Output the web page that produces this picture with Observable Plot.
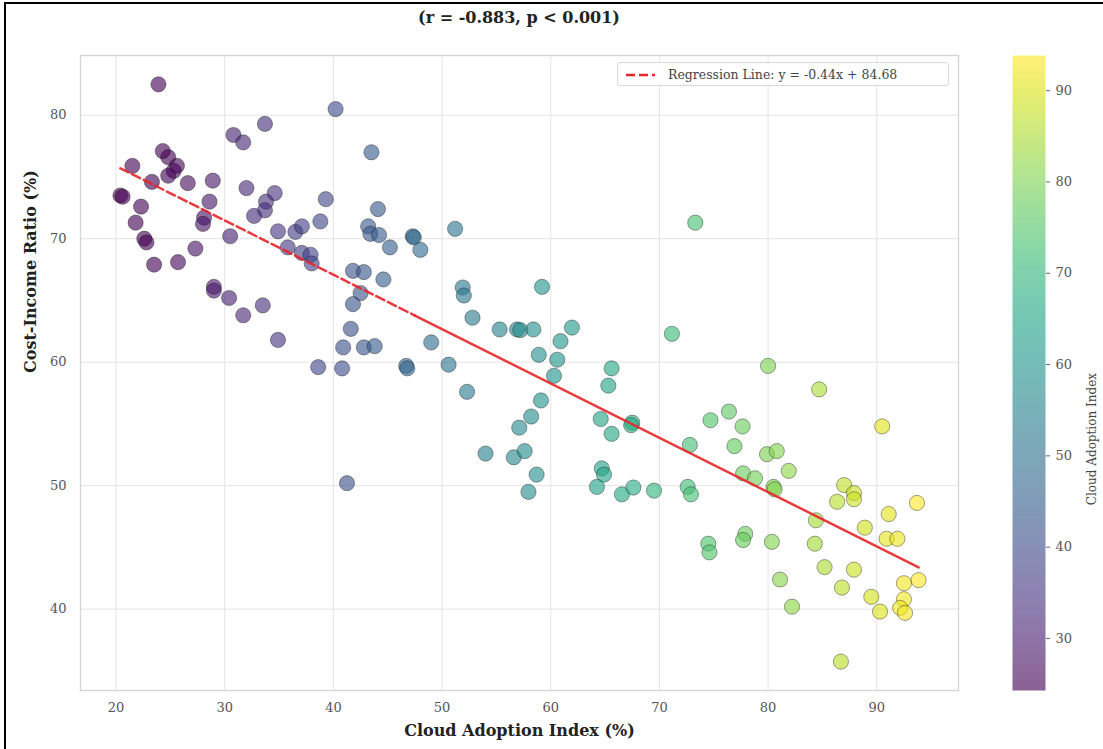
<!DOCTYPE html>
<html><head><meta charset="utf-8">
<script src="https://cdn.jsdelivr.net/npm/d3@7"></script>
<script src="https://cdn.jsdelivr.net/npm/@observablehq/plot@0.6"></script>
<style>
body{margin:0;background:#fff;font-family:"DejaVu Serif",serif;}
#wrap{position:relative;width:1103px;height:749px;overflow:hidden;background:#fff;}
#wrap svg{position:absolute;top:0;}
#border{position:absolute;left:4px;top:2px;width:1200px;height:800px;border-left:2px solid #000;border-top:2px solid #000;pointer-events:none;}
#title{position:absolute;top:8px;left:0;width:1038px;text-align:center;font-weight:bold;font-size:16px;color:#222;font-family:"DejaVu Serif",serif;}
#legend{position:absolute;left:617px;top:62px;width:332px;height:24px;border:1px solid #d8d8d8;border-radius:3px;background:rgba(255,255,255,0.85);box-sizing:border-box;}
#legend svg{position:absolute;left:7px;top:6px;}
#legend span{position:absolute;left:50px;top:4px;font-size:12.5px;color:#444;font-family:"DejaVu Serif",serif;white-space:nowrap;}
</style>
</head><body>
<div id="wrap">
  <div id="title"></div>
  <div id="legend"><svg width="32" height="12"><line x1="1" y1="6" x2="30" y2="6" stroke="#e8232a" stroke-width="2.5" stroke-dasharray="9,4"/></svg><span id="legtext"></span></div>
  <div id="border"></div>
</div>
<script>
// ---- data ----
const adoption = [23.9,40.2,33.7,30.8,31.7,43.5,24.3,24.8,25.6,25.3,24.8,21.5,23.3,26.6,28.9,20.4,20.6,32.0,34.6,33.8,
  33.7,32.7,39.3,38.8,28.6,28.1,28.0,22.3,21.8,22.6,22.8,30.5,34.9,36.5,37.1,27.3,23.5,25.7,35.8,37.1,
  37.9,38.0,41.8,42.8,29.0,29.0,30.4,33.5,31.7,34.9,44.6,42.5,41.8,41.6,40.9,42.8,43.8,38.6,40.8,46.7,
  46.8,49.0,50.6,52.3,51.9,52.0,52.8,41.25,54.0,44.1,43.2,43.4,44.2,47.3,47.4,48.0,45.2,51.2,59.2,55.3,
  56.9,57.2,58.4,61.95,60.9,58.9,60.6,60.3,59.1,58.2,57.1,65.6,65.3,71.15,64.6,67.5,67.4,65.6,56.6,57.6,
  58.7,57.95,64.7,64.9,64.25,66.55,67.6,69.5,72.8,72.6,72.9,74.7,76.4,77.65,76.9,80.0,79.9,80.8,77.7,78.8,
  80.5,80.6,73.3,84.7,90.5,81.9,87.0,87.9,87.9,86.35,93.7,91.1,84.4,88.9,90.9,91.9,74.5,74.6,77.9,77.7,
  80.35,84.3,85.2,87.9,81.1,86.8,89.5,90.3,92.5,93.85,92.5,92.15,92.6,82.2,86.7];
const costIncome = [82.5,80.5,79.3,78.4,77.8,77.0,77.1,76.6,75.9,75.5,75.1,75.9,74.6,74.5,74.7,73.5,73.4,74.1,73.7,73.0,
  72.3,71.85,73.2,71.4,73.0,71.7,71.2,72.6,71.3,70.0,69.7,70.2,70.6,70.55,71.0,69.2,67.9,68.1,69.3,68.85,
  68.7,68.0,67.4,67.3,66.1,65.8,65.2,64.6,63.8,61.8,66.7,65.6,64.7,62.7,61.2,61.2,61.3,59.6,59.5,59.7,
  59.5,61.6,59.8,57.6,66.05,65.4,63.6,50.2,52.6,72.4,71.0,70.4,70.3,70.2,70.1,69.1,69.3,70.8,66.1,62.65,
  62.65,62.6,62.65,62.8,61.7,60.6,60.2,58.9,56.9,55.6,54.7,59.5,58.1,62.3,55.4,55.1,54.9,54.2,52.3,52.8,
  50.9,49.5,51.4,50.9,49.9,49.3,49.85,49.6,53.3,49.9,49.3,55.3,56.0,54.8,53.2,59.7,52.55,52.8,51.0,50.6,
  49.9,49.7,71.3,57.8,54.8,51.2,50.05,49.4,48.9,48.7,48.6,47.7,47.2,46.6,45.7,45.7,45.3,44.6,46.1,45.6,
  45.45,45.3,43.4,43.2,42.4,41.75,41.0,39.8,42.1,42.35,40.8,40.1,39.7,40.2,35.75];
const xTicks = [20,30,40,50,60,70,80,90];
const yTicks = [40,50,60,70,80];
const cTicks = [30,40,50,60,70,80,90];
const colorDomain = [24.3, 93.85];
const slope = -0.44, intercept = 84.68;
const regDashedX = [20.4, 47.5];
const regSolidX = [47.5, 93.85];
const titleText = "(r = -0.883, p < 0.001)";
const legendText = "Regression Line: y = -0.44x + 84.68";
const xLabel = "Cloud Adoption Index (%)";
const yLabel = "Cost-Income Ratio (%)";
const cLabel = "Cloud Adoption Index";

// ---- build ----
const points = adoption.map((x, i) => ({x, y: costIncome[i]}));
const xExt = d3.extent(adoption);
const xPad = (xExt[1] - xExt[0]) * 0.05;
const yExt = d3.extent(costIncome);
const yPad = (yExt[1] - yExt[0]) * 0.05;
const xDom = [xExt[0] - xPad, xExt[1] + xPad];
const yDom = [yExt[0] - yPad, yExt[1] + yPad];
const regY = x => slope * x + intercept;
const colorOpt = {type: "linear", scheme: "viridis", domain: colorDomain, clamp: true};

document.getElementById("title").textContent = titleText;
document.getElementById("legtext").textContent = legendText;

const main = Plot.plot({
  width: 1103, height: 749,
  marginLeft: 80, marginRight: 145, marginTop: 55, marginBottom: 59,
  x: {domain: xDom},
  y: {domain: yDom},
  color: colorOpt,
  style: {fontFamily: "DejaVu Serif, serif", fontSize: "13px", color: "#555", background: "transparent", overflow: "visible"},
  marks: [
    Plot.gridX(xTicks, {stroke: "#e4e4e4", strokeOpacity: 1, strokeWidth: 1}),
    Plot.gridY(yTicks, {stroke: "#e4e4e4", strokeOpacity: 1, strokeWidth: 1}),
    Plot.frame({stroke: "#d6d6d6", strokeWidth: 1.4}),
    Plot.axisX(xTicks, {tickSize: 0, tickPadding: 12, label: null, fill: "#555"}),
    Plot.axisY(yTicks, {tickSize: 0, tickPadding: 14, label: null, fill: "#555"}),
    Plot.dot(points, {x: "x", y: "y", fill: "x", r: 7.6, fillOpacity: 0.62, stroke: "#1a1a1a", strokeOpacity: 0.5, strokeWidth: 0.8}),
    Plot.line(regDashedX, {x: d => d, y: regY, stroke: "#e8232a", strokeWidth: 2.5, strokeDasharray: "9,4", strokeOpacity: 0.9}),
    Plot.line(regSolidX, {x: d => d, y: regY, stroke: "#e8232a", strokeWidth: 2.5, strokeOpacity: 0.9}),
    Plot.text([xLabel], {frameAnchor: "bottom", dy: 45, fontWeight: "bold", fontSize: 16, fill: "#222"}),
    Plot.text([yLabel], {frameAnchor: "left", dx: -50, rotate: -90, fontWeight: "bold", fontSize: 16, fill: "#222"})
  ]
});

const cbar = Plot.plot({
  width: 103, height: 749,
  marginLeft: 12, marginRight: 58, marginTop: 55, marginBottom: 59,
  x: {domain: [0, 1], axis: null},
  y: {domain: colorDomain, axis: null},
  color: colorOpt,
  style: {fontFamily: "DejaVu Serif, serif", fontSize: "13px", color: "#555", background: "transparent", overflow: "visible"},
  marks: [
    Plot.raster({x1: 0, x2: 1, y1: colorDomain[0], y2: colorDomain[1], width: 2, height: 400, fill: (x, y) => y, fillOpacity: 0.62, imageRendering: "auto"}),
    Plot.axisY(cTicks, {anchor: "right", tickSize: 4, tickPadding: 6, label: null, stroke: "#666", fill: "#555"}),
    Plot.text([cLabel], {frameAnchor: "right", dx: 47, rotate: -90, fontSize: 12, fill: "#444"})
  ]
});
cbar.style.left = "1000px";

const wrap = document.getElementById("wrap");
wrap.insertBefore(main, wrap.firstChild);
wrap.insertBefore(cbar, main.nextSibling);
</script>
</body></html>
